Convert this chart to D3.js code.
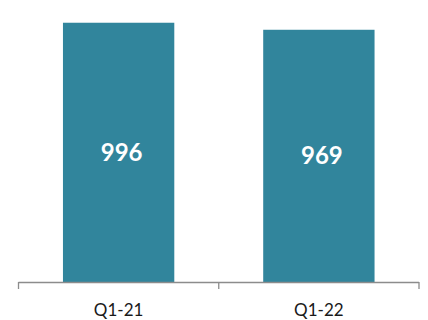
<!DOCTYPE html>
<html><head><meta charset="utf-8">
<script src="https://cdn.jsdelivr.net/npm/d3@7"></script>
<style>body{margin:0;background:#fff}svg{display:block}</style>
</head><body>
<svg id="c" width="428" height="320"></svg>
<script>
const categories = ["Q1-21", "Q1-22"];
const values = [996, 969];

const svg = d3.select("#c");
const x = d3.scaleBand().domain(categories).range([18.5, 419]).paddingInner(0.444).paddingOuter(0.222);
const y = d3.scaleLinear().domain([0, 1000]).range([282, 21.7]);

svg.selectAll("rect.bar").data(values).join("rect")
  .attr("class", "bar")
  .attr("x", (d, i) => x(categories[i]))
  .attr("width", x.bandwidth())
  .attr("y", d => y(d))
  .attr("height", d => y(0) - y(d))
  .attr("fill", "#31859C");

svg.selectAll("text.val").data(values).join("text")
  .attr("class", "val")
  .attr("x", (d, i) => x(categories[i]) + x.bandwidth() / 2 + 3)
  .attr("y", d => (y(d) + y(0)) / 2)
  .attr("dy", "0.35em")
  .attr("text-anchor", "middle")
  .attr("fill", "#fff")
  .attr("font-family", "Lato, 'Open Sans', sans-serif")
  .attr("font-weight", "bold")
  .attr("font-size", 24)
  .text(d => d);

// axis: category boundaries as ticks
const xb = d3.scaleBand().domain(categories).range([18.5, 419]);
const axisG = svg.append("g");
axisG.append("line").attr("x1", 18.5).attr("x2", 419).attr("y1", 282.5).attr("y2", 282.5)
  .attr("stroke", "#8c8c8c").attr("stroke-width", 1.3);
const bounds = categories.map(c => xb(c)).concat([xb(categories[categories.length-1]) + xb.bandwidth()]);
axisG.selectAll("line.tick").data(bounds).join("line")
  .attr("class", "tick")
  .attr("x1", d => d).attr("x2", d => d).attr("y1", 282).attr("y2", 289)
  .attr("stroke", "#8c8c8c").attr("stroke-width", 1.3);
axisG.selectAll("text.cat").data(categories).join("text")
  .attr("class", "cat")
  .attr("x", d => xb(d) + xb.bandwidth() / 2)
  .attr("y", 316)
  .attr("text-anchor", "middle")
  .attr("fill", "#1a1a1a")
  .attr("font-family", "Lato, 'Open Sans', sans-serif")
  .attr("font-size", 17)
  .text(d => d);
</script>
</body></html>
